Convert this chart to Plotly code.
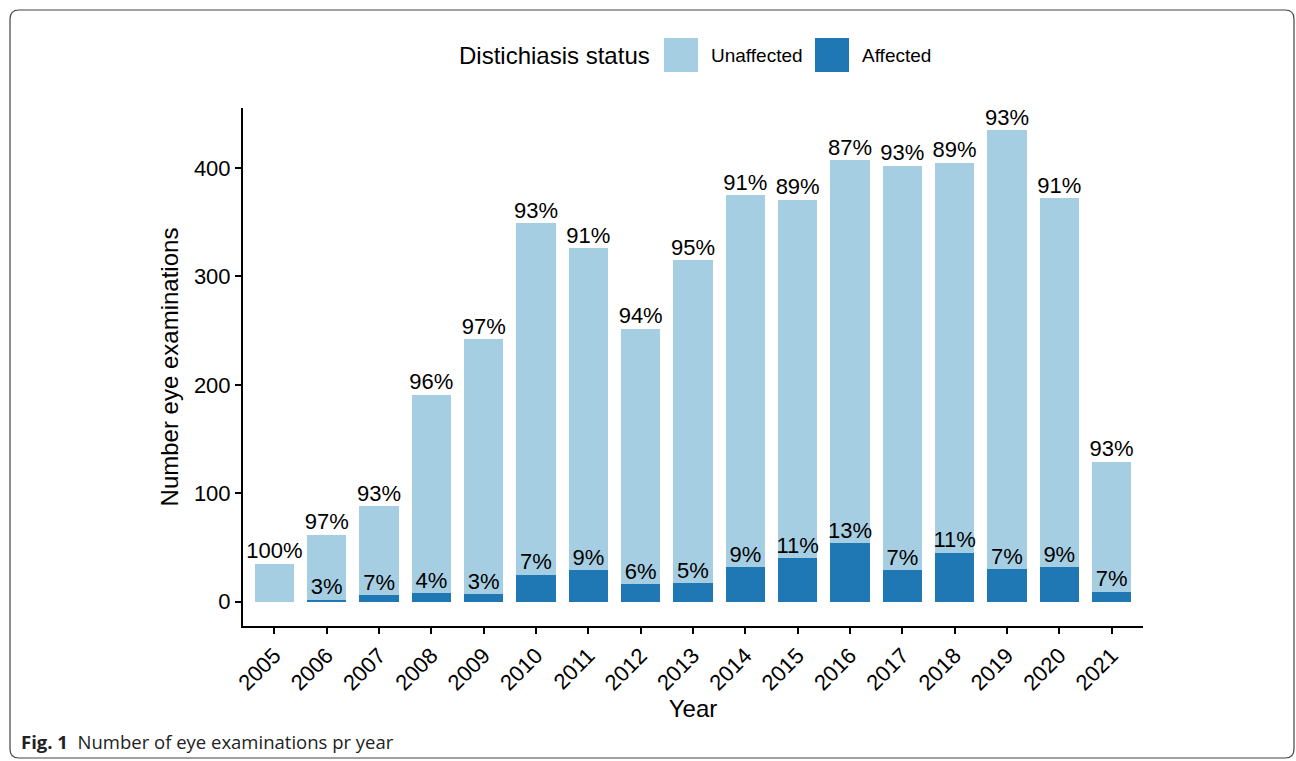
import plotly.graph_objects as go

years = [str(y) for y in range(2005, 2022)]
unaffected = [35, 60, 82, 183, 235, 324, 297, 236, 298, 343, 331, 353, 373, 360, 405, 340, 120]
affected = [0, 2, 6, 8, 7, 25, 29, 16, 17, 32, 40, 54, 29, 45, 30, 32, 9]
unaffected_pct = ["100%", "97%", "93%", "96%", "97%", "93%", "91%", "94%", "95%", "91%",
                  "89%", "87%", "93%", "89%", "93%", "91%", "93%"]
affected_pct = ["", "3%", "7%", "4%", "3%", "7%", "9%", "6%", "5%", "9%",
                "11%", "13%", "7%", "11%", "7%", "9%", "7%"]
totals = [u + a for u, a in zip(unaffected, affected)]

LIGHT = "#A6CEE3"
DARK = "#1F78B4"
FONT = "Liberation Sans, Arial, sans-serif"

W, H = 1296, 761
L, R, T, B = 243, 1143, 108, 626


def px(x):
    return (x - L) / (R - L)


def py(y):
    return (B - y) / (B - T)


fig = go.Figure()
fig.add_trace(go.Bar(x=years, y=affected, name="Affected", marker_color=DARK,
                     marker_line_width=0, width=0.75, hoverinfo="skip"))
fig.add_trace(go.Bar(x=years, y=unaffected, name="Unaffected", marker_color=LIGHT,
                     marker_line_width=0, width=0.75, hoverinfo="skip"))
fig.add_trace(go.Scatter(x=years, y=totals, text=unaffected_pct, mode="text",
                         textposition="top center",
                         textfont=dict(size=22, color="black", family=FONT),
                         hoverinfo="skip", showlegend=False, cliponaxis=False))
fig.add_trace(go.Scatter(x=years, y=affected, text=affected_pct, mode="text",
                         textposition="top center",
                         textfont=dict(size=22, color="black", family=FONT),
                         hoverinfo="skip", showlegend=False, cliponaxis=False))

# outer rounded frame
x0, y0, x1, y1, r = 10, 10, 1294, 758, 9


def P(x, y):
    return f"{px(x):.5f},{py(y):.5f}"


path = (f"M {P(x0 + r, y0)} L {P(x1 - r, y0)} Q {P(x1, y0)} {P(x1, y0 + r)} "
        f"L {P(x1, y1 - r)} Q {P(x1, y1)} {P(x1 - r, y1)} "
        f"L {P(x0 + r, y1)} Q {P(x0, y1)} {P(x0, y1 - r)} "
        f"L {P(x0, y0 + r)} Q {P(x0, y0)} {P(x0 + r, y0)} Z")
shapes = [dict(type="path", xref="paper", yref="paper", path=path,
               line=dict(color="#444444", width=1.2), fillcolor="rgba(0,0,0,0)", layer="below")]

# legend swatches
for (sx, col) in [(664, LIGHT), (815, DARK)]:
    shapes.append(dict(type="rect", xref="paper", yref="paper",
                       x0=px(sx), x1=px(sx + 34), y0=py(72), y1=py(38),
                       fillcolor=col, line=dict(width=0)))

annotations = [
    dict(text="Distichiasis status", x=px(457), y=py(56), xref="paper", yref="paper",
         xanchor="left", yanchor="middle", showarrow=False,
         font=dict(size=24, color="black", family=FONT)),
    dict(text="Unaffected", x=px(709), y=py(56), xref="paper", yref="paper",
         xanchor="left", yanchor="middle", showarrow=False,
         font=dict(size=19, color="black", family=FONT)),
    dict(text="Affected", x=px(860), y=py(56), xref="paper", yref="paper",
         xanchor="left", yanchor="middle", showarrow=False,
         font=dict(size=19, color="black", family=FONT)),
    dict(text="<b>Fig. 1</b>&nbsp;&nbsp;Number of eye examinations pr year",
         x=px(19), y=py(741), xref="paper", yref="paper",
         xanchor="left", yanchor="middle", showarrow=False,
         font=dict(size=18.5, color="#222222", family="Open Sans, Noto Sans, sans-serif")),
]

fig.update_layout(
    width=W, height=H,
    margin=dict(l=L, r=W - R, t=T, b=H - B, pad=0),
    barmode="stack", bargap=0.25,
    showlegend=False,
    plot_bgcolor="white", paper_bgcolor="white",
    font=dict(family=FONT, color="black"),
    shapes=shapes, annotations=annotations,
)
fig.update_xaxes(
    type="category", range=[-0.6, 16.6],
    showline=True, linecolor="black", linewidth=2, mirror=False,
    ticks="outside", ticklen=6, tickwidth=1.5, tickcolor="black",
    tickangle=-45, tickfont=dict(size=22, color="black"),
    showgrid=False, zeroline=False,
    title=dict(text="Year", font=dict(size=24, color="black"), standoff=1),
)
fig.update_yaxes(
    range=[-22.4, 455.4], tickvals=[0, 100, 200, 300, 400],
    showline=True, linecolor="black", linewidth=2,
    ticks="outside", ticklen=6, tickwidth=1.5, tickcolor="black",
    tickfont=dict(size=22, color="black"),
    showgrid=False, zeroline=False,
    title=dict(text="Number eye examinations", font=dict(size=24, color="black"), standoff=8),
)

fig.write_html("out.html", config={"displayModeBar": False},
               post_script="document.body.style.margin='0';document.body.style.padding='0';")
